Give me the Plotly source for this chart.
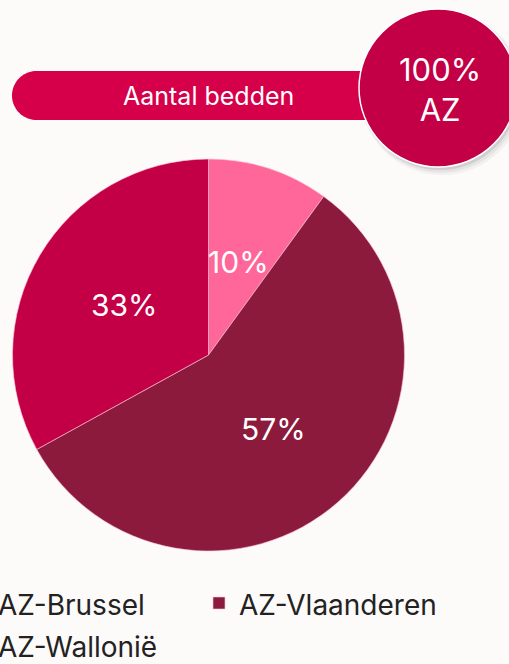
import math
import plotly.graph_objects as go

# Data
categories = ["AZ-Brussel", "AZ-Vlaanderen", "AZ-Wallonië"]
values = [10, 57, 33]
colors = ["#FF6699", "#8C1A3C", "#C30045"]
title_text = "Aantal bedden"
badge_text = "100%<br>AZ"

W, H = 509, 664
BOTTOM = 104                # bottom margin holding the legend
HP = H - BOTTOM             # plot-area height
FONT = "Inter"

def px(x):
    return x / W

def py(y):
    return 1 - y / HP

# pie geometry (pixels)
PCX, PCY, PR = 208.5, 355, 196

fig = go.Figure()
fig.add_trace(go.Pie(
    labels=[f'<span style="font-size:28px">{c}</span>' for c in categories],
    values=values,
    marker=dict(colors=colors, line=dict(color="rgba(255,200,220,0.6)", width=1)),
    sort=False,
    direction="clockwise",
    rotation=0,
    textinfo="none",
    domain=dict(x=[px(PCX - PR), px(PCX + PR)], y=[py(PCY + PR), py(PCY - PR)]),
    hoverinfo="skip",
))

annotations = []
# percentage labels at half radius on each slice's mid-angle (derived from the values)
total = sum(values)
cum = 0
for v in values:
    mid = (cum + v / 2) / total * 2 * math.pi
    cum += v
    lx = PCX + 0.5 * PR * math.sin(mid)
    ly = PCY - 0.5 * PR * math.cos(mid)
    annotations.append(dict(text=f"{round(v / total * 100)}%", x=px(lx), y=py(ly),
                            xref="paper", yref="paper", xanchor="center", yanchor="middle",
                            showarrow=False, font=dict(family=FONT, size=30, color="white")))

shapes = []
# pill
x0, x1, y0, y1 = 12, 380, 71, 120
r = (y1 - y0) / 2
cx, cy = x0 + r, (y0 + y1) / 2
pts_arc = []
for i in range(0, 41):
    a = math.pi / 2 + math.pi * i / 40
    pts_arc.append((cx + r * math.cos(a), cy - r * math.sin(a)))
path = f"M {px(x1)},{py(y0)} " + " ".join(f"L {px(a)},{py(b)}" for a, b in pts_arc) + \
    f" L {px(x1)},{py(y1)} Z"
shapes.append(dict(type="path", xref="paper", yref="paper", path=path,
                   fillcolor="#D6004A", line=dict(width=0), layer="above"))

# badge shadow
ccx, ccy, cr = 438, 88, 79
for off, op, grow in [(5, 0.05, 3), (4, 0.07, 1.5), (3, 0.12, 0)]:
    shapes.append(dict(type="circle", xref="paper", yref="paper",
                       x0=px(ccx - cr - grow + off - 1), x1=px(ccx + cr + grow + off - 1),
                       y0=py(ccy + cr + grow + off), y1=py(ccy - cr - grow + off),
                       fillcolor=f"rgba(60,60,60,{op})", line=dict(width=0), layer="above"))
shapes.append(dict(type="circle", xref="paper", yref="paper",
                   x0=px(ccx - cr), x1=px(ccx + cr), y0=py(ccy + cr), y1=py(ccy - cr),
                   fillcolor="#C30045", line=dict(color="white", width=1.5), layer="above"))

annotations += [
    dict(text=title_text, x=px(208), y=py(96), xref="paper", yref="paper",
         xanchor="center", yanchor="middle",
         showarrow=False, font=dict(family=FONT, size=25, color="white")),
    dict(text=badge_text, x=px(440), y=py(90), xref="paper", yref="paper",
         xanchor="center", yanchor="middle",
         showarrow=False, font=dict(family=FONT, size=31, color="white")),
]

fig.update_layout(
    width=W, height=H,
    margin=dict(l=0, r=0, t=0, b=BOTTOM, autoexpand=False),
    paper_bgcolor="#FDFAFA",
    plot_bgcolor="#FDFAFA",
    shapes=shapes,
    annotations=annotations,
    showlegend=True,
    legend=dict(
        orientation="h",
        x=px(-42), xanchor="left",
        y=py(577), yanchor="top",
        font=dict(family=FONT, size=30, color="#222222"),
        entrywidth=196, entrywidthmode="pixels",
        bgcolor="rgba(0,0,0,0)",
        itemclick=False, itemdoubleclick=False,
    ),
)

fig.write_html("out.html",
               config={"displayModeBar": False},
               post_script="document.body.style.margin='0';"
                           "document.body.style.background='#FDFAFA';")
